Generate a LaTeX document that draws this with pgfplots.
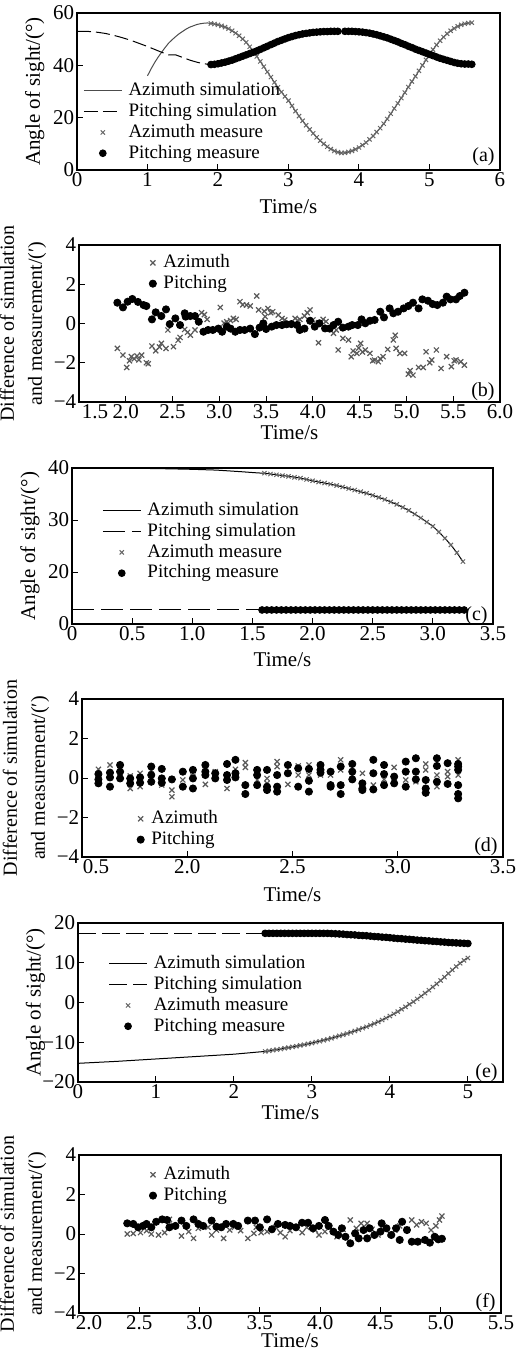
\documentclass[border=0pt]{standalone}
\usepackage{fontspec}
\setmainfont{Liberation Serif}
\usepackage{pgfplots}
\usepackage{pgfplotstable}
\pgfplotsset{compat=1.18}

\tikzset{
  tag/.style={anchor=east, inner sep=0pt, font=\fontsize{10}{11}\selectfont},
  firsttick/.style={anchor=north west, inner sep=1.2pt, font=\fontsize{10.5}{12}\selectfont},
}

\pgfplotsset{
  panel/.style={
    scale only axis,
    clip mode=individual,
    axis line style={line width=0.6pt},
    tick align=inside,
    xtick pos=left, ytick pos=left,
    major tick length=3pt,
    tick style={black, line width=0.5pt},
    /pgf/number format/assume math mode=true,
    tick label style={font=\fontsize{10.5}{12}\selectfont, inner sep=1.2pt},
    label style={font=\fontsize{10.5}{14}\selectfont},
    xlabel={Time/s},
    legend style={draw=none, fill=none, font=\fontsize{9.5}{11}\selectfont,
      inner sep=0pt, row sep=0pt, column sep=2.5pt, anchor=north west,
      nodes={text height=7pt, text depth=2.2pt, inner sep=0.6pt}},
    legend cell align=left,
  },
  xl/.style={xlabel style={at={(axis description cs:0.5,0)}, anchor=center, yshift=-#1}},
  angle/.style={ylabel={Angle of sight/(°)},
    ylabel style={at={(axis description cs:-0.1,0.5)}, anchor=center}},
  diff/.style={ylabel={Difference of simulation\\and measurement/(′)},
    ylabel style={align=center, at={(axis description cs:-0.133,0.5)}, anchor=center,
      font=\fontsize{10}{14}\selectfont}},
  diffy/.style={ymin=-4, ymax=4, ytick={-4,-2,0,2,4}, yticklabels={−4,−2,0,2,4}},
  simline/.style={legend image code/.code={\draw[##1] (0pt,0pt) -- (19pt,0pt);}},
  simmark/.style={legend image code/.code={\path (0pt,0pt) (19pt,0pt); \draw[##1] plot coordinates {(9.5pt,0pt)};}},
  shortmark/.style={legend image code/.code={\path (-2pt,0pt) (2pt,0pt); \draw[##1] plot coordinates {(0pt,0pt)};}},
  azm/.style={only marks, mark=x, mark size=1.5pt, black!60, mark options={line width=0.5pt}},
  ptm/.style={only marks, mark=*, mark size=1.7pt, black},
  dazm/.style={only marks, mark=x, mark size=1.8pt, black!65, mark options={line width=0.6pt}},
  dptm/.style={only marks, mark=*, mark size=1.8pt, black},
}

% panel (a): azimuth angle
\pgfplotstableread{
t a
1.00 36.0
1.05 38.6
1.10 41.0
1.15 43.1
1.20 45.0
1.25 46.8
1.30 48.5
1.35 49.8
1.40 51.0
1.45 52.1
1.50 53.0
1.55 53.9
1.60 54.6
1.65 55.1
1.70 55.6
1.75 55.9
1.80 56.1
1.85 56.2
1.90 56.0
1.95 55.8
2.00 55.5
2.05 55.1
2.10 54.6
2.15 54.0
2.20 53.2
2.25 52.3
2.30 51.3
2.35 50.1
2.40 48.8
2.45 47.1
2.50 45.2
2.55 43.4
2.60 41.5
2.65 39.5
2.70 37.5
2.75 35.5
2.80 33.5
2.85 31.6
2.90 29.8
2.95 28.1
3.00 26.5
3.05 24.5
3.10 22.5
3.15 20.6
3.20 18.8
3.25 17.1
3.30 15.5
3.35 14.0
3.40 12.5
3.45 11.2
3.50 10.0
3.55 8.9
3.60 8.0
3.65 7.3
3.70 6.8
3.75 6.5
3.80 6.6
3.85 6.9
3.90 7.3
3.95 7.9
4.00 8.6
4.05 9.5
4.10 10.5
4.15 11.7
4.20 13.0
4.25 14.5
4.30 16.0
4.35 17.7
4.40 19.5
4.45 21.5
4.50 23.5
4.55 25.5
4.60 27.5
4.65 29.6
4.70 31.7
4.75 33.8
4.80 35.8
4.85 37.9
4.90 40.0
4.95 42.1
5.00 44.2
5.05 46.0
5.10 47.8
5.15 49.4
5.20 50.8
5.25 52.1
5.30 53.2
5.35 54.1
5.40 54.9
5.45 55.5
5.50 55.9
5.55 56.1
5.60 56.3
}\azA

% panel (a): pitching angle, measured
\pgfplotstableread{
t p
1.90 40.3
1.95 40.4
2.00 40.6
2.05 40.9
2.10 41.2
2.15 41.6
2.20 42.0
2.25 42.5
2.30 43.0
2.35 43.5
2.40 44.0
2.45 44.5
2.50 45.0
2.55 45.5
2.60 46.1
2.65 46.7
2.70 47.3
2.75 47.9
2.80 48.5
2.85 49.1
2.90 49.6
2.95 50.1
3.00 50.6
3.05 51.0
3.10 51.4
3.15 51.7
3.20 52.0
3.25 52.2
3.30 52.4
3.35 52.6
3.40 52.7
3.45 52.8
3.50 52.9
3.55 52.9
3.60 53.0
3.65 53.0
3.70 53.0
3.80 53.0
3.85 53.0
3.90 53.0
3.95 52.9
4.00 52.8
4.05 52.7
4.10 52.5
4.15 52.3
4.20 52.0
4.25 51.7
4.30 51.3
4.35 50.9
4.40 50.5
4.45 50.0
4.50 49.5
4.55 49.0
4.60 48.4
4.65 47.9
4.70 47.3
4.75 46.8
4.80 46.2
4.85 45.7
4.90 45.2
4.95 44.7
5.00 44.2
5.05 43.7
5.10 43.2
5.15 42.7
5.20 42.3
5.25 41.9
5.30 41.5
5.35 41.1
5.40 40.8
5.45 40.6
5.50 40.5
5.55 40.5
5.60 40.4
}\ptA

% panel (e): azimuth angle
\pgfplotstableread{
t a
0.00 -15.3
0.50 -14.8
1.00 -14.2
1.50 -13.6
2.00 -13.0
2.40 -12.3
2.45 -12.15
2.50 -12.0
2.55 -11.85
2.60 -11.7
2.65 -11.5
2.70 -11.35
2.75 -11.15
2.80 -11.0
2.85 -10.8
2.90 -10.6
2.95 -10.4
3.00 -10.2
3.05 -9.95
3.10 -9.75
3.15 -9.5
3.20 -9.25
3.25 -9.0
3.30 -8.7
3.35 -8.4
3.40 -8.1
3.45 -7.8
3.50 -7.5
3.55 -7.15
3.60 -6.8
3.65 -6.45
3.70 -6.1
3.75 -5.7
3.80 -5.3
3.85 -4.85
3.90 -4.4
3.95 -3.9
4.00 -3.4
4.05 -2.85
4.10 -2.3
4.15 -1.7
4.20 -1.1
4.25 -0.45
4.30 0.2
4.35 0.9
4.40 1.6
4.45 2.35
4.50 3.1
4.55 3.9
4.60 4.7
4.65 5.55
4.70 6.4
4.75 7.3
4.80 8.2
4.85 9.05
4.90 9.9
4.95 10.6
5.00 11.2
}\azE

% panel (e): pitching angle, measured
\pgfplotstableread{
t p
2.40 17.4
2.45 17.4
2.50 17.4
2.55 17.4
2.60 17.4
2.65 17.4
2.70 17.4
2.75 17.4
2.80 17.4
2.85 17.4
2.90 17.4
2.95 17.4
3.00 17.4
3.05 17.4
3.10 17.4
3.15 17.4
3.20 17.4
3.25 17.35
3.30 17.3
3.35 17.25
3.40 17.2
3.45 17.1
3.50 17.05
3.55 17.0
3.60 16.9
3.65 16.85
3.70 16.8
3.75 16.7
3.80 16.6
3.85 16.55
3.90 16.45
3.95 16.4
4.00 16.3
4.05 16.2
4.10 16.1
4.15 16.05
4.20 15.95
4.25 15.9
4.30 15.8
4.35 15.7
4.40 15.65
4.45 15.55
4.50 15.5
4.55 15.4
4.60 15.35
4.65 15.25
4.70 15.2
4.75 15.1
4.80 15.05
4.85 15.0
4.90 14.95
4.95 14.9
5.00 14.85
}\ptE

\begin{document}
\begin{tikzpicture}
\useasboundingbox (0pt,0pt) rectangle (261.5pt,-680pt);

% ---------------- (a)
\begin{axis}[panel, angle, xl=18.5pt,
  at={(38.5pt,-85pt)}, anchor=south west,
  width=211.5pt, height=78.5pt,
  xmin=0, xmax=6, ymin=0, ymax=60,
  xtick={0,1,2,3,4,5,6}, ytick={0,20,40,60},
  legend style={at={(0.014,0.573)}},
]
\addplot[black!70, line width=0.5pt, simline] table[x=t, y=a] {\azA};
\addlegendentry{Azimuth simulation}
\addplot[black, line width=0.5pt, dash pattern=on 7pt off 2.5pt, simline] coordinates {
(0,53.0) (0.1,53.0) (0.2,52.9) (0.3,52.6) (0.4,52.2) (0.5,51.6) (0.6,50.9)
(0.7,50.1) (0.8,49.2) (0.9,48.2) (1.0,47.2) (1.1,46.1) (1.2,45.0) (1.3,44.0)
(1.4,44.0) (1.5,43.0) (1.6,42.0) (1.7,41.2) (1.8,40.6) (1.9,40.3)};
\addlegendentry{Pitching simulation}
\addplot[azm, simmark, restrict x to domain=1.88:5.61] table[x=t, y=a] {\azA};
\addlegendentry{Azimuth measure}
\addplot[ptm, simmark] table[x=t, y=p] {\ptA};
\addlegendentry{Pitching measure}
\node[tag] at (rel axis cs:1,0) [xshift=-2.5pt, yshift=6.5pt] {(a)};
\end{axis}

% ---------------- (b)
\begin{axis}[panel, diff, diffy, xl=15.5pt,
  at={(39.5pt,-201pt)}, anchor=south west,
  width=210.5pt, height=78.5pt,
  xmin=1.5, xmax=6.0,
  xtick={1.5,2.0,2.5,3.0,3.5,4.0,4.5,5.0,5.5,6.0},
  xticklabels={,2.0,2.5,3.0,3.5,4.0,4.5,5.0,5.5,6.0},
  legend style={at={(0.164,0.955)}},
]
\addplot[dazm, shortmark] coordinates {
(1.91,-1.27) (1.97,-1.61) (2.01,-2.24) (2.06,-1.69) (2.12,-1.66) (2.17,-1.61)
(2.22,-2.00) (2.28,-1.15) (2.32,-1.39) (2.38,-1.01) (2.43,-1.27) (2.45,-0.33)
(2.51,-1.18) (2.58,-0.71) (2.63,-0.30) (2.69,-0.59) (2.74,-0.33) (2.81,0.55)
(2.87,0.21) (3.01,0.82) (3.08,0.09) (3.15,0.26) (3.18,0.21) (3.22,1.11)
(3.29,0.94) (3.33,0.89) (3.40,1.40) (3.42,0.69) (3.49,0.35) (3.52,0.77)
(3.57,0.60) (3.63,0.43) (3.67,0.26) (3.70,0.18) (3.81,0.26) (3.86,0.21)
(3.91,0.38) (3.97,0.69) (4.00,0.18) (4.06,0.04) (4.11,0.21) (4.06,-0.98)
(4.22,-0.50) (4.25,-0.33) (4.27,-1.35) (4.32,-0.76) (4.38,-0.84) (4.41,-1.69)
(4.47,-1.52) (4.51,-1.01) (4.56,-1.35) (4.61,-1.52) (4.66,-1.86) (4.70,-1.95)
(4.75,-1.69) (4.80,-1.32) (4.86,-0.84) (4.89,-1.27) (4.93,-1.52) (4.98,-1.52)
(5.02,-2.58) (5.07,-2.63) (5.13,-2.24) (5.18,-2.24) (5.21,-1.44) (5.27,-1.86)
(5.32,-1.35) (5.37,-2.29) (5.43,-1.69) (5.48,-2.20) (5.53,-1.86) (5.58,-1.95)
(5.62,-2.12) (2.04,-1.90) (2.09,-1.80) (2.14,-1.85) (2.24,-2.05) (2.36,-1.20)
(2.56,-0.85) (2.66,-0.45) (2.84,0.45) (3.05,0.02) (3.12,0.15) (3.25,0.95)
(3.48,0.62) (3.55,0.55) (3.84,0.15) (3.94,0.55) (4.14,0.10) (4.43,-1.40)
(4.49,-1.25) (4.53,-1.45) (4.64,-1.90) (4.72,-1.80) (4.88,-0.60) (5.04,-2.40)
(5.25,-2.00) (5.51,-1.90)};
\addlegendentry{Azimuth}
\addplot[dptm, shortmark] coordinates {
(1.91,1.06) (1.97,0.82) (2.02,1.11) (2.07,1.25) (2.13,1.10) (2.19,0.94)
(2.22,0.89) (2.28,0.21) (2.32,0.57) (2.38,0.38) (2.43,0.72) (2.47,-0.03)
(2.53,0.26) (2.58,-0.08) (2.63,0.52) (2.64,0.35) (2.69,0.38) (2.74,0.38)
(2.78,0.09) (2.83,-0.42) (2.88,-0.33) (2.93,-0.33) (2.99,-0.26) (3.03,-0.42)
(3.08,-0.16) (3.12,-0.26) (3.17,-0.42) (3.22,-0.33) (3.27,-0.33) (3.33,-0.26)
(3.38,-0.54) (3.43,-0.21) (3.47,0.01) (3.50,-0.28) (3.56,-0.16) (3.61,-0.08)
(3.67,-0.08) (3.72,-0.04) (3.77,-0.03) (3.83,-0.08) (3.86,-0.33) (3.91,-0.26)
(3.97,0.14) (4.02,-0.16) (4.07,0.01) (4.13,-0.25) (4.18,-0.26) (4.22,-0.08)
(4.27,0.09) (4.32,-0.21) (4.38,-0.16) (4.42,-0.08) (4.48,-0.08) (4.52,0.21)
(4.56,0.01) (4.61,0.14) (4.66,0.18) (4.72,0.60) (4.76,0.31) (4.82,0.77)
(4.86,0.52) (4.91,0.60) (4.97,0.77) (5.02,0.89) (5.07,1.06) (5.13,0.77)
(5.17,1.23) (5.23,1.16) (5.28,0.99) (5.33,0.94) (5.39,1.06) (5.43,1.37)
(5.47,1.23) (5.53,1.23) (5.57,1.40) (5.62,1.57)};
\addlegendentry{Pitching}
\node[tag] at (rel axis cs:1,0) [xshift=-2.5pt, yshift=5pt] {(b)};
\node[firsttick] at (rel axis cs:0,0) {1.5};
\end{axis}

% ---------------- (c)
\begin{axis}[panel, angle, xl=18pt,
  at={(36pt,-312pt)}, anchor=south west,
  width=210.5pt, height=78pt,
  xmin=0, xmax=3.5, ymin=10, ymax=40,
  xtick={0,0.5,1.0,1.5,2.0,2.5,3.0,3.5},
  xticklabels={0,0.5,1.0,1.5,2.0,2.5,3.0,3.5},
  ytick={10,20,30,40}, yticklabels={0,20,30,40},
  legend style={at={(0.071,0.795)}},
]
\addplot[black, line width=0.5pt, simline] coordinates {
(0.65,39.9) (0.8,39.85) (1.0,39.75) (1.2,39.6) (1.4,39.3) (1.55,39.05)
(1.60,39.0) (1.70,38.7) (1.80,38.4) (1.90,38.05) (2.00,37.55) (2.10,37.1)
(2.20,36.65) (2.30,36.05) (2.40,35.45) (2.50,34.75) (2.60,33.95) (2.70,33.0)
(2.80,31.85) (2.90,30.4) (3.00,28.8) (3.05,27.7) (3.10,26.5) (3.15,25.2)
(3.20,23.7) (3.25,22.0)};
\addlegendentry{Azimuth simulation}
\addplot[black, line width=0.5pt, dash pattern=on 11pt off 3.5pt, simline] coordinates {
(0,12.8) (1.57,12.8)};
\addlegendentry{Pitching simulation}
\addplot[azm, simmark] coordinates {
(1.60,39.0) (1.65,38.85) (1.70,38.7) (1.75,38.55) (1.80,38.4) (1.85,38.2)
(1.90,38.05) (1.95,37.8) (2.00,37.55) (2.05,37.3) (2.10,37.1) (2.15,36.9)
(2.20,36.65) (2.25,36.35) (2.30,36.05) (2.35,35.75) (2.40,35.45) (2.45,35.15)
(2.50,34.75) (2.55,34.35) (2.60,33.95) (2.65,33.5) (2.70,33.0) (2.75,32.45)
(2.80,31.85) (2.85,31.15) (2.90,30.4) (2.95,29.6) (3.00,28.8) (3.05,27.7)
(3.10,26.5) (3.15,25.2) (3.20,23.7) (3.25,22.0)};
\addlegendentry{Azimuth measure}
\addplot[ptm, simmark] coordinates {
(1.58,12.7) (1.62,12.7) (1.66,12.7) (1.70,12.7) (1.74,12.7) (1.78,12.7)
(1.82,12.7) (1.86,12.7) (1.90,12.7) (1.94,12.7) (1.98,12.7) (2.02,12.7)
(2.06,12.7) (2.10,12.7) (2.14,12.7) (2.18,12.7) (2.22,12.7) (2.26,12.7)
(2.30,12.7) (2.34,12.7) (2.38,12.7) (2.42,12.7) (2.46,12.7) (2.50,12.7)
(2.54,12.7) (2.58,12.7) (2.62,12.7) (2.66,12.7) (2.70,12.7) (2.74,12.7)
(2.78,12.7) (2.82,12.7) (2.86,12.7) (2.90,12.7) (2.94,12.7) (2.98,12.7)
(3.02,12.7) (3.06,12.7) (3.10,12.7) (3.14,12.7) (3.18,12.7) (3.22,12.7)
(3.26,12.7)};
\addlegendentry{Pitching measure}
\node[tag] at (rel axis cs:1,0) [xshift=-2.5pt, yshift=4pt] {(c)};
\end{axis}

% ---------------- (d)
\begin{axis}[panel, diff, diffy, xl=19pt,
  at={(41pt,-428.5pt)}, anchor=south west,
  width=210.5pt, height=79pt,
  xmin=1.5, xmax=3.5,
  xtick={1.5,2.0,2.5,3.0,3.5},
  xticklabels={,2.0,2.5,3.0,3.5},
  legend style={at={(0.128,0.31)}},
]
\addplot[dazm, shortmark] coordinates {
(1.578,0.44) (1.633,0.66) (1.681,0.2) (1.729,-0.53) (1.729,0.1) (1.776,-0.44)
(1.776,0.24) (1.829,0.41) (1.879,-0.36) (1.927,-0.61) (1.927,-0.95) (1.979,-0.1)
(2.027,0.1) (2.086,-0.32) (2.133,0.32) (2.189,-0.53) (2.229,0.44) (2.276,0.78)
(2.276,0.54) (2.332,-0.1) (2.379,-0.02) (2.379,-0.27) (2.427,0.83) (2.427,0.58)
(2.478,-0.32) (2.527,0.61) (2.527,0.15) (2.578,0.66) (2.578,0.15) (2.633,0.15)
(2.681,0.15) (2.729,0.92) (2.729,0.41) (2.784,0.15) (2.832,0.24) (2.884,-0.36)
(2.935,-0.07) (2.983,0.54) (3.038,-0.1) (3.086,-0.19) (3.133,0.71) (3.133,0.41)
(3.186,0.15) (3.186,-0.44) (3.237,0.32) (3.237,0.07) (3.287,0.92) (3.287,0.15)};
\addlegendentry{Azimuth}
\addplot[dptm, shortmark] coordinates {
(1.578,0.2) (1.578,-0.07) (1.578,-0.27)
(1.633,0.27) (1.633,0.03) (1.633,-0.44)
(1.681,0.66) (1.681,0.32) (1.681,-0.02)
(1.729,-0.02) (1.729,-0.27)
(1.776,0.03) (1.776,-0.24)
(1.829,0.58) (1.829,0.15) (1.829,-0.19)
(1.879,0.46) (1.879,-0.02) (1.879,-0.24)
(1.927,-0.07)
(1.979,0.32) (1.979,-0.44)
(2.027,0.41) (2.027,-0.02) (2.027,-0.53)
(2.086,0.66) (2.086,0.32) (2.086,0.15)
(2.133,0.24) (2.133,-0.02)
(2.189,0.71) (2.189,0.15) (2.189,-0.1)
(2.229,0.92) (2.229,0.24) (2.229,0.03)
(2.276,-0.36) (2.276,-0.81)
(2.332,0.41) (2.332,0.15) (2.332,-0.36)
(2.379,0.41) (2.379,-0.44) (2.379,-0.61)
(2.427,0.15) (2.427,-0.44) (2.427,-0.69)
(2.478,0.66) (2.478,0.24)
(2.527,0.49) (2.527,-0.44)
(2.578,0.46) (2.578,-0.14) (2.578,-0.69)
(2.633,0.66) (2.633,0.41) (2.633,0.27)
(2.681,0.32) (2.681,-0.36) (2.681,-0.44)
(2.729,0.58) (2.729,-0.36) (2.729,-0.81)
(2.784,0.71) (2.784,0.32) (2.784,-0.07)
(2.832,-0.27) (2.832,-0.53) (2.832,-0.61)
(2.884,0.92) (2.884,0.24) (2.884,-0.58)
(2.935,0.66) (2.935,0.2) (2.935,-0.36)
(2.983,0.07) (2.983,-0.27)
(3.038,0.83) (3.038,0.32) (3.038,-0.44)
(3.086,1.0) (3.086,0.32) (3.086,-0.07)
(3.133,-0.1) (3.133,-0.53) (3.133,-0.75)
(3.186,1.0) (3.186,0.61) (3.186,-0.19)
(3.237,0.75) (3.237,-0.3)
(3.287,0.71) (3.287,0.58) (3.287,0.41) (3.287,-0.36) (3.287,-0.81) (3.287,-1.03)};
\addlegendentry{Pitching}
\node[tag] at (rel axis cs:1,0) [xshift=-2.5pt, yshift=5pt] {(d)};
\node[firsttick] at (rel axis cs:0,0) [xshift=-1pt] {0.5};
\end{axis}

% ---------------- (e)
\begin{axis}[panel, angle, xl=15.5pt,
  at={(39pt,-541pt)}, anchor=south west,
  width=212.5pt, height=79.5pt,
  xmin=0, xmax=5.45, ymin=-20, ymax=20,
  xtick={0,1,2,3,4,5},
  ytick={-20,-10,0,10,20}, yticklabels={−20,−10,0,10,20},
  legend style={at={(0.071,0.811)}},
]
\addplot[black, line width=0.5pt, simline] table[x=t, y=a] {\azE};
\addlegendentry{Azimuth simulation}
\addplot[black, line width=0.5pt, dash pattern=on 9pt off 3pt, simline] coordinates {
(0,17.4) (2.4,17.4)};
\addlegendentry{Pitching simulation}
\addplot[azm, simmark, restrict x to domain=2.39:5.01] table[x=t, y=a] {\azE};
\addlegendentry{Azimuth measure}
\addplot[ptm, simmark] table[x=t, y=p] {\ptE};
\addlegendentry{Pitching measure}
\node[tag] at (rel axis cs:1,0) [xshift=-2.5pt, yshift=4.5pt] {(e)};
\end{axis}

% ---------------- (f)
\begin{axis}[panel, diff, diffy, xl=14pt,
  at={(39.5pt,-656.5pt)}, anchor=south west,
  width=211pt, height=79pt,
  xmin=2.0, xmax=5.5,
  xtick={2.0,2.5,3.0,3.5,4.0,4.5,5.0,5.5},
  xticklabels={,2.5,3.0,3.5,4.0,4.5,5.0,5.5},
  legend style={at={(0.164,0.943)}},
]
\addplot[dazm, shortmark] coordinates {
(2.40,0.00) (2.45,0.03) (2.51,0.07) (2.56,0.17) (2.60,0.00) (2.66,-0.05)
(2.71,0.07) (2.75,0.74) (2.78,0.46) (2.85,-0.10) (2.91,0.12) (2.95,-0.22)
(2.99,0.29) (3.07,0.34) (3.10,-0.05) (3.14,0.20) (3.20,-0.22) (3.25,0.20)
(3.29,0.34) (3.34,0.17) (3.40,-0.22) (3.45,0.03) (3.47,0.34) (3.51,0.07)
(3.56,0.12) (3.63,0.34) (3.67,0.07) (3.71,-0.14) (3.75,0.17) (3.80,0.37)
(3.85,0.07) (3.89,0.34) (3.96,0.20) (3.99,-0.05) (4.04,0.12) (4.08,0.34)
(4.14,-0.14) (4.19,0.24) (4.25,0.71) (4.30,0.29) (4.34,0.54) (4.39,0.54)
(4.43,0.24) (4.48,-0.05) (4.52,0.41) (4.58,0.00) (4.62,0.20) (4.66,0.41)
(4.72,0.24) (4.76,0.71) (4.80,0.46) (4.84,0.62) (4.88,0.54) (4.92,0.20)
(4.96,0.41) (4.99,0.71) (5.01,0.91)};
\addlegendentry{Azimuth}
\addplot[dptm, shortmark] coordinates {
(2.40,0.54) (2.45,0.51) (2.49,0.34) (2.53,0.41) (2.56,0.51) (2.60,0.34)
(2.64,0.62) (2.69,0.74) (2.73,0.71) (2.75,0.34) (2.80,0.41) (2.85,0.68)
(2.89,0.41) (2.95,0.74) (2.99,0.51) (3.03,0.41) (3.10,0.68) (3.14,0.37)
(3.18,0.34) (3.22,0.51) (3.28,0.51) (3.32,0.41) (3.40,0.68) (3.46,0.68)
(3.50,0.34) (3.56,0.74) (3.60,0.24) (3.65,0.51) (3.71,0.46) (3.75,0.41)
(3.80,0.34) (3.85,0.57) (3.90,0.57) (3.94,0.29) (3.99,0.41) (4.04,0.71)
(4.07,0.41) (4.11,0.12) (4.15,-0.05) (4.18,0.29) (4.21,-0.14) (4.25,-0.47)
(4.29,0.03) (4.32,-0.22) (4.36,0.20) (4.39,-0.22) (4.41,0.29) (4.45,-0.05)
(4.50,0.12) (4.51,0.54) (4.55,0.29) (4.59,-0.05) (4.63,0.29) (4.66,-0.30)
(4.68,0.62) (4.72,0.20) (4.76,-0.39) (4.81,-0.39) (4.87,-0.30) (4.91,-0.44)
(4.95,-0.14) (4.98,-0.27) (5.01,-0.24)};
\addlegendentry{Pitching}
\node[tag] at (rel axis cs:1,0) [xshift=-2.5pt, yshift=5pt] {(f)};
\node[firsttick] at (rel axis cs:0,0) [xshift=-3pt] {2.0};
\end{axis}

\end{tikzpicture}
\end{document}
